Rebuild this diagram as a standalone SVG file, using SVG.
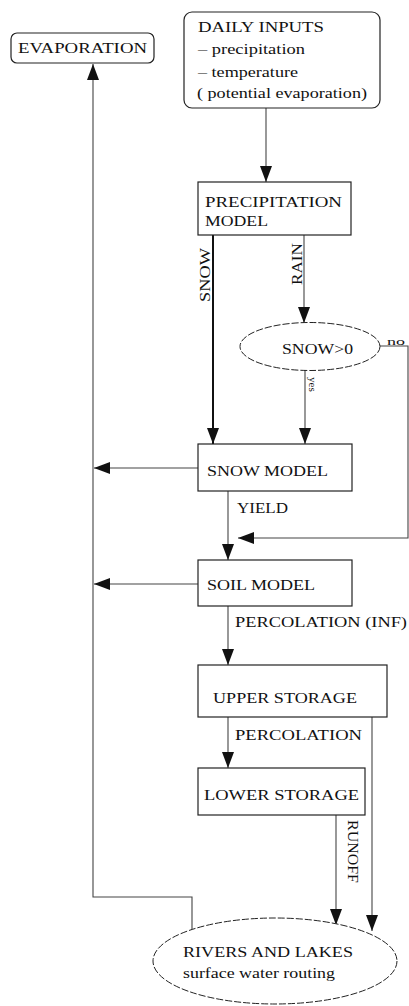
<svg xmlns="http://www.w3.org/2000/svg" width="409" height="1006" viewBox="0 0 409 1006">
<style>
text{font-family:"Liberation Serif","Times New Roman",serif;font-size:14px;fill:#111}
.sm{font-size:11px}
.box{fill:#fff;stroke:#222;stroke-width:1.2}
.ell{fill:#fff;stroke:#222;stroke-width:1;stroke-dasharray:7 2}
.c{fill:none;stroke:#444;stroke-width:1.1}
.thick{stroke:#111;stroke-width:2}
</style>
<defs>
<marker id="ah" markerUnits="userSpaceOnUse" markerWidth="16" markerHeight="12" refX="16" refY="6" orient="auto">
<path d="M0,0 L16,6 L0,12 z" fill="#111"/>
</marker>
</defs>
<rect width="409" height="1006" fill="#fff"/>
<g id="connectors">
<path class="c" d="M266,108 V182" marker-end="url(#ah)"/>
<path class="c thick" d="M213,235 V444" marker-end="url(#ah)"/>
<path class="c" d="M304,235 V323" marker-end="url(#ah)"/>
<path class="c" d="M305,370 V444" marker-end="url(#ah)"/>
<path class="c" d="M380,346 H408 V538 H238" marker-end="url(#ah)"/>
<path class="c" d="M228,491 V560" marker-end="url(#ah)"/>
<path class="c" d="M198,468 H94" marker-end="url(#ah)"/>
<path class="c" d="M198,584 H94" marker-end="url(#ah)"/>
<path class="c" d="M228,606 V665" marker-end="url(#ah)"/>
<path class="c" d="M228,717 V768" marker-end="url(#ah)"/>
<path class="c" d="M336,815 V925" marker-end="url(#ah)"/>
<path class="c" d="M372,717 V931" marker-end="url(#ah)"/>
<path class="c" d="M192,930 V897 H93 V64" marker-end="url(#ah)"/>
<text transform="translate(210,302) rotate(-90)" textLength="54" lengthAdjust="spacingAndGlyphs">SNOW</text>
<text transform="translate(302,285) rotate(-90)" textLength="42" lengthAdjust="spacingAndGlyphs">RAIN</text>
<text class="sm" transform="translate(309,377) rotate(90)" textLength="15" lengthAdjust="spacingAndGlyphs">yes</text>
<text class="sm" x="387" y="345" textLength="18" lengthAdjust="spacingAndGlyphs">no</text>
<text x="237" y="513" textLength="51" lengthAdjust="spacingAndGlyphs">YIELD</text>
<text x="235" y="627" textLength="172" lengthAdjust="spacingAndGlyphs">PERCOLATION (INF)</text>
<text x="235" y="740" textLength="127" lengthAdjust="spacingAndGlyphs">PERCOLATION</text>
<text transform="translate(348,820) rotate(90)" textLength="63" lengthAdjust="spacingAndGlyphs">RUNOFF</text>
</g>
<g id="evaporation">
<rect class="box" x="11" y="33" width="143" height="30" rx="6"/>
<text x="18" y="53" textLength="129" lengthAdjust="spacingAndGlyphs">EVAPORATION</text>
</g>
<g id="daily-inputs">
<rect class="box" x="184" y="12" width="196" height="96" rx="8"/>
<text x="198" y="32" textLength="126" lengthAdjust="spacingAndGlyphs">DAILY INPUTS</text>
<text x="198" y="54" textLength="107" lengthAdjust="spacingAndGlyphs">– precipitation</text>
<text x="198" y="77" textLength="100" lengthAdjust="spacingAndGlyphs">– temperature</text>
<text x="197" y="98" textLength="170" lengthAdjust="spacingAndGlyphs">( potential evaporation)</text>
</g>
<g id="precipitation-model">
<rect class="box" x="198" y="182" width="153" height="53"/>
<text x="205" y="207" textLength="137" lengthAdjust="spacingAndGlyphs">PRECIPITATION</text>
<text x="205" y="226" textLength="63" lengthAdjust="spacingAndGlyphs">MODEL</text>
</g>
<g id="snow-test">
<ellipse class="ell" cx="310" cy="346.5" rx="70" ry="24"/>
<text x="282" y="354" textLength="71" lengthAdjust="spacingAndGlyphs">SNOW&gt;0</text>
</g>
<g id="snow-model">
<rect class="box" x="198" y="444" width="154" height="47"/>
<text x="207" y="476" textLength="121" lengthAdjust="spacingAndGlyphs">SNOW MODEL</text>
</g>
<g id="soil-model">
<rect class="box" x="198" y="560" width="154" height="46"/>
<text x="207" y="590" textLength="108" lengthAdjust="spacingAndGlyphs">SOIL MODEL</text>
</g>
<g id="upper-storage">
<rect class="box" x="198" y="665" width="189" height="52"/>
<text x="213" y="703" textLength="144" lengthAdjust="spacingAndGlyphs">UPPER STORAGE</text>
</g>
<g id="lower-storage">
<rect class="box" x="198" y="768" width="167" height="47"/>
<text x="204" y="800" textLength="155" lengthAdjust="spacingAndGlyphs">LOWER STORAGE</text>
</g>
<g id="rivers-lakes">
<ellipse class="ell" cx="275" cy="961" rx="122" ry="43"/>
<text x="183" y="957" textLength="170" lengthAdjust="spacingAndGlyphs">RIVERS AND LAKES</text>
<text x="183" y="978" textLength="152" lengthAdjust="spacingAndGlyphs">surface water routing</text>
</g>
</svg>
